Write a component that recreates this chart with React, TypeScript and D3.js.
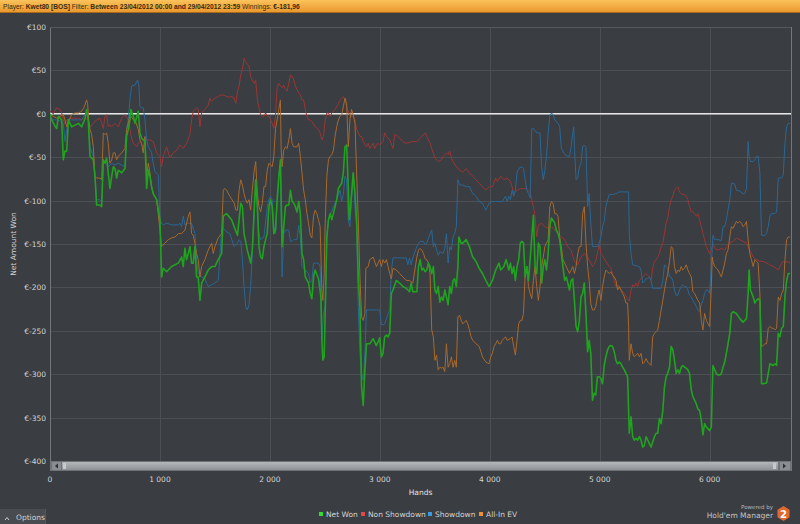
import React from 'react'
import * as d3 from 'd3'

// [hands, net amount won in €]
const netWon: [number, number][] = [
  [0,0],[15,-7],[45,-14],[61,-17],[76,-3],[106,-7],[121,-53],[136,-43],[152,-43],[167,-7],[197,-15],[227,-13],[258,-11],[288,-15],[318,-6],[333,5],[348,-7],[364,-49],[394,-53],[409,-72],[424,-105],[455,-105],[470,-107],[485,-53],[500,-57],[515,-51],[530,-68],[545,-86],[561,-72],[576,-61],[591,-63],[606,-74],[621,-65],[652,-68],[682,-63],[697,-26],[712,-18],[727,-7],[736,5],[758,-3],[773,-11],[803,3],[818,-22],[833,-28],[864,-32],[879,-86],[894,-65],[909,-72],[924,-84],[939,-92],[970,-99],[1000,-122],[1015,-188],[1030,-178],[1061,-182],[1106,-176],[1167,-172],[1197,-165],[1212,-176],[1227,-155],[1242,-168],[1258,-161],[1273,-153],[1288,-172],[1303,-172],[1318,-153],[1333,-188],[1348,-188],[1364,-215],[1379,-195],[1409,-188],[1439,-180],[1470,-176],[1500,-176],[1530,-168],[1561,-161],[1576,-118],[1606,-115],[1652,-122],
  [1675,-130],[1705,-140],[1735,-103],[1750,-107],[1765,-138],[1795,-157],[1825,-172],[1840,-157],[1856,-115],[1871,-76],[1886,-107],[1901,-153],[1916,-165],[1931,-167],[1946,-153],[1961,-145],[1976,-138],[1991,-107],[2006,-99],[2021,-107],[2036,-138],[2051,-134],[2066,-99],[2081,-74],[2096,-53],[2111,-153],[2126,-130],[2141,-107],[2157,-105],[2172,-105],[2187,-88],[2202,-101],[2217,-103],[2232,-107],[2247,-113],[2262,-101],[2277,-115],[2292,-161],[2307,-168],[2322,-188],[2352,-195],[2367,-207],[2382,-213],[2397,-188],[2412,-180],[2442,-190],[2464,-211],[2473,-261],[2482,-284],[2494,-280],[2503,-230],[2518,-142],[2533,-122],[2548,-115],[2563,-122],[2593,-107],[2608,-99],[2623,-86],[2653,-80],[2668,-68],[2683,-38],[2698,-36],[2713,-84],[2722,-122],[2734,-107],[2743,-92],[2758,-68],[2774,-92],[2789,-122],[2804,-188],[2819,-222],[2834,-315],[2849,-336],[2864,-295],[2879,-265],[2909,-265],[2939,-259],[2969,-267],[2999,-258],[3014,-280],[3029,-276],[3044,-257],[3060,-255],[3075,-257],[3090,-253],[3105,-207],[3120,-203],[3150,-192],[3180,-195],[3210,-199],[3240,-201],[3270,-205],[3285,-195],[3300,-205],
  [3337,-205],[3352,-176],[3367,-168],[3382,-180],[3397,-178],[3412,-182],[3427,-180],[3442,-172],[3457,-176],[3472,-184],[3487,-176],[3501,-203],[3516,-207],[3531,-199],[3546,-217],[3561,-211],[3576,-215],[3591,-203],[3606,-211],[3621,-220],[3636,-199],[3651,-207],[3666,-192],[3681,-190],[3696,-199],[3710,-176],[3719,-142],[3740,-149],[3755,-149],[3785,-145],[3815,-153],[3845,-165],[3875,-170],[3904,-178],[3934,-184],[3964,-192],[3994,-199],[4024,-192],[4054,-180],[4084,-172],[4099,-180],[4128,-176],[4149,-168],[4173,-180],[4188,-172],[4203,-184],[4218,-176],[4233,-192],[4248,-176],[4263,-168],[4278,-149],[4293,-147],[4307,-149],[4322,-188],[4337,-176],[4352,-192],[4367,-168],[4382,-142],[4397,-117],[4412,-176],[4427,-184],[4442,-149],[4457,-153],[4472,-195],[4487,-176],[4501,-168],[4516,-180],[4531,-161],[4546,-130],[4561,-120],[4591,-126],[4606,-134],[4621,-138],[4636,-145],[4651,-161],[4666,-176],[4681,-192],[4696,-188],[4710,-195],[4725,-203],[4740,-192],[4755,-190],[4770,-215],[4785,-245],[4800,-251],[4815,-238],[4830,-211],[4845,-207],[4860,-195],[4875,-230],[4890,-274],[4904,-261],[4919,-276],[4934,-330],[4949,-322],[4964,-324],[4979,-303],
  [4995,-303],[5011,-305],[5026,-311],[5041,-290],[5056,-280],[5072,-272],[5087,-268],[5102,-267],[5117,-268],[5132,-274],[5148,-284],[5163,-288],[5178,-286],[5193,-288],[5209,-292],[5224,-295],[5239,-299],[5254,-303],[5269,-368],[5285,-349],[5300,-372],[5315,-376],[5330,-374],[5346,-376],[5361,-372],[5376,-376],[5391,-384],[5406,-382],[5422,-372],[5437,-376],[5452,-380],[5467,-384],[5482,-378],[5498,-372],[5513,-368],[5528,-368],[5543,-351],[5559,-357],[5574,-342],[5589,-315],[5604,-303],[5619,-299],[5635,-292],[5650,-268],[5665,-272],[5680,-284],[5696,-299],[5711,-295],[5726,-299],[5741,-292],[5756,-290],[5772,-292],[5787,-293],[5802,-295],[5817,-299],[5833,-318],[5848,-326],[5863,-330],[5878,-334],[5893,-340],[5909,-342],[5924,-353],[5939,-370],[5954,-357],[5970,-361],[5985,-363],[6000,-365],[6015,-361],[6030,-290],[6046,-295],[6061,-299],[6076,-301],[6091,-301],[6107,-299],[6122,-292],[6137,-286],[6152,-276],[6167,-265],[6183,-253],[6198,-230],[6213,-228],[6243,-230],[6274,-236],[6289,-238],[6304,-240],[6320,-238],[6335,-236],[6350,-207],[6359,-180],[6371,-203],[6396,-211],[6411,-218],[6426,-215],[6441,-213],[6457,-215],[6472,-311],[6487,-311],[6518,-310],[6533,-299],[6548,-288],[6578,-290],[6594,-288],[6609,-290],[6624,-253],[6639,-257],[6655,-247],[6670,-245],[6685,-211],[6700,-192],[6715,-184],[6731,-184],
]

const nonShowdown: [number, number][] = [
  [0,3],[30,0],[61,7],[91,5],[106,1],[121,-7],[136,-12],[152,-7],[197,-5],[258,-5],[288,-7],[318,-5],[348,-7],[364,-15],[394,-11],[424,-7],[455,-5],[470,-11],[485,-17],[500,-3],[515,-1],[530,-15],[545,-13],[561,-15],[591,-11],[621,-15],[652,-5],[682,-1],[712,-7],[742,-28],[758,-34],[788,-38],[803,-34],[818,-32],[848,-38],[879,-30],[909,-30],[939,-32],[970,-45],[1000,-49],[1015,-61],[1030,-49],[1061,-38],[1091,-51],[1121,-45],[1151,-42],[1182,-36],[1212,-40],[1242,-34],[1273,-24],[1288,-7],[1303,3],[1333,7],[1348,5],[1364,-15],[1379,1],[1409,5],[1439,10],[1454,18],[1470,14],[1500,18],[1530,20],[1561,22],[1591,21],[1621,19],[1652,20],
  [1675,18],[1690,12],[1705,26],[1720,32],[1735,45],[1750,51],[1765,64],[1780,60],[1795,57],[1810,55],[1825,43],[1840,39],[1856,35],[1871,39],[1886,16],[1901,7],[1916,-1],[1931,-3],[1946,-3],[1961,1],[1976,-3],[1991,-3],[2006,-7],[2021,-11],[2036,-17],[2051,-3],[2066,30],[2081,35],[2096,32],[2111,30],[2126,33],[2141,28],[2157,26],[2172,35],[2187,45],[2202,43],[2217,39],[2232,32],[2247,28],[2262,24],[2277,22],[2292,16],[2307,16],[2322,5],[2337,-3],[2352,-7],[2367,-7],[2382,-9],[2412,-15],[2442,-18],[2457,-22],[2473,-30],[2488,-26],[2503,-7],[2518,1],[2533,1],[2548,-3],[2563,1],[2578,3],[2593,5],[2608,8],[2623,12],[2638,16],[2653,18],[2668,20],[2683,16],[2698,8],[2713,3],[2728,-3],[2758,-3],[2774,-7],[2789,-18],[2819,-26],[2834,-26],[2849,-32],[2879,-38],[2894,-34],[2909,-40],[2939,-34],[2954,-40],[2969,-36],[2984,-34],[2999,-36],[3029,-32],[3044,-22],[3060,-26],[3090,-30],[3120,-40],[3135,-24],[3150,-24],[3180,-28],[3210,-32],[3240,-34],[3270,-33],[3300,-32],
  [3337,-32],[3367,-28],[3382,-26],[3412,-22],[3427,-26],[3442,-30],[3457,-34],[3472,-40],[3501,-51],[3531,-55],[3561,-53],[3576,-49],[3591,-47],[3606,-45],[3621,-47],[3636,-43],[3651,-51],[3666,-55],[3696,-61],[3725,-65],[3755,-67],[3785,-63],[3815,-68],[3845,-72],[3875,-76],[3904,-80],[3934,-84],[3964,-88],[3994,-84],[4024,-84],[4054,-74],[4069,-78],[4099,-72],[4128,-76],[4158,-74],[4188,-78],[4203,-84],[4218,-92],[4248,-88],[4278,-86],[4307,-86],[4337,-86],[4367,-90],[4382,-99],[4397,-107],[4412,-118],[4427,-142],[4442,-128],[4472,-126],[4501,-130],[4531,-132],[4561,-130],[4591,-134],[4621,-138],[4651,-142],[4681,-145],[4710,-153],[4740,-157],[4770,-170],[4800,-174],[4830,-165],[4860,-161],[4890,-165],[4919,-172],[4934,-176],[4964,-170],
  [4995,-151],[5011,-161],[5026,-163],[5041,-167],[5056,-170],[5087,-176],[5102,-178],[5117,-184],[5132,-192],[5148,-199],[5163,-197],[5178,-199],[5193,-203],[5224,-207],[5254,-213],[5269,-216],[5285,-203],[5300,-197],[5315,-199],[5330,-195],[5346,-199],[5361,-192],[5391,-188],[5422,-184],[5452,-188],[5467,-192],[5482,-178],[5498,-170],[5513,-168],[5528,-165],[5543,-161],[5559,-153],[5574,-149],[5589,-138],[5604,-126],[5619,-120],[5635,-107],[5650,-99],[5665,-95],[5680,-88],[5696,-86],[5711,-84],[5726,-90],[5741,-92],[5756,-93],[5772,-93],[5787,-95],[5802,-99],[5817,-107],[5833,-113],[5848,-113],[5863,-115],[5878,-118],[5893,-115],[5909,-122],[5924,-130],[5939,-138],[5954,-145],[5970,-153],[5985,-157],[6000,-161],[6015,-157],[6030,-149],[6046,-155],[6076,-157],[6107,-155],[6137,-157],[6152,-153],[6183,-149],[6213,-147],[6243,-143],[6274,-145],[6304,-147],[6335,-149],[6365,-157],[6396,-165],[6426,-168],[6457,-170],[6487,-170],[6518,-172],[6548,-174],[6578,-176],[6609,-178],[6624,-180],[6639,-176],[6655,-172],[6670,-170],[6685,-172],[6700,-170],[6731,-172],
]

const showdown: [number, number][] = [
  [0,-3],[30,-7],[61,-7],[106,-9],[121,-11],[136,-32],[167,-7],[197,-7],[227,-7],[258,-7],[288,-7],[318,-1],[333,1],[348,-7],[364,-38],[394,-49],[409,-72],[424,-99],[455,-99],[470,-101],[485,-53],[500,-57],[515,-53],[530,-61],[561,-57],[591,-59],[621,-57],[652,-59],[682,-61],[697,-18],[712,-7],[727,16],[742,32],[773,33],[797,39],[809,32],[818,8],[833,7],[848,7],[864,-7],[879,-30],[894,-38],[924,-45],[939,-57],[955,-67],[985,-70],[1000,-122],[1015,-126],[1030,-128],[1061,-126],[1106,-128],[1167,-128],[1182,-126],[1197,-130],[1212,-118],[1227,-128],[1258,-126],[1288,-126],[1318,-138],[1333,-168],[1348,-184],[1379,-188],[1409,-190],[1424,-195],[1439,-199],[1470,-197],[1500,-195],[1530,-192],[1561,-134],[1576,-132],[1606,-136],[1636,-138],
  [1675,-153],[1705,-149],[1720,-145],[1735,-147],[1750,-168],[1765,-199],[1780,-222],[1795,-226],[1810,-220],[1825,-199],[1840,-161],[1856,-115],[1871,-84],[1886,-107],[1901,-138],[1916,-145],[1946,-142],[1976,-107],[1991,-99],[2006,-95],[2021,-99],[2036,-130],[2051,-138],[2066,-103],[2081,-72],[2096,-57],[2111,-188],[2126,-138],[2141,-134],[2172,-134],[2187,-147],[2202,-147],[2217,-145],[2247,-145],[2262,-128],[2277,-142],[2292,-176],[2307,-178],[2322,-180],[2352,-184],[2367,-195],[2382,-192],[2397,-172],[2427,-172],[2442,-172],[2457,-176],[2464,-211],[2473,-261],[2488,-230],[2503,-222],[2518,-140],[2533,-122],[2548,-117],[2578,-107],[2608,-99],[2623,-93],[2638,-88],[2653,-101],[2668,-93],[2683,-72],[2698,-76],[2713,-122],[2728,-130],[2743,-99],[2758,-68],[2774,-107],[2789,-130],[2804,-222],[2819,-276],[2834,-299],[2849,-307],[2864,-276],[2879,-226],[2909,-226],[2939,-226],[2969,-226],[2999,-226],[3014,-243],[3029,-243],[3044,-242],[3060,-236],[3075,-230],[3090,-226],[3105,-180],[3120,-166],[3150,-166],[3180,-166],[3210,-166],[3240,-166],[3255,-174],[3270,-166],[3285,-174],[3300,-166],
  [3337,-153],[3352,-149],[3367,-147],[3397,-147],[3412,-151],[3427,-149],[3457,-138],[3472,-134],[3487,-153],[3501,-149],[3516,-157],[3531,-163],[3546,-159],[3576,-161],[3591,-155],[3606,-138],[3621,-172],[3636,-153],[3651,-157],[3666,-142],[3681,-138],[3696,-130],[3710,-76],[3725,-82],[3755,-82],[3785,-84],[3815,-84],[3845,-92],[3860,-93],[3875,-95],[3904,-101],[3934,-103],[3949,-107],[3964,-111],[3994,-103],[4024,-101],[4054,-101],[4084,-101],[4113,-101],[4143,-95],[4158,-101],[4173,-95],[4188,-99],[4203,-88],[4218,-95],[4233,-88],[4248,-68],[4263,-63],[4293,-61],[4307,-63],[4322,-76],[4337,-88],[4352,-92],[4367,-97],[4382,-17],[4397,-17],[4427,-22],[4442,-22],[4457,-22],[4472,-61],[4487,-76],[4501,-65],[4516,-49],[4531,-22],[4546,-3],[4561,1],[4576,-1],[4591,-7],[4621,-11],[4636,-15],[4651,-40],[4666,-43],[4681,-47],[4710,-49],[4725,-49],[4740,-38],[4755,-22],[4764,-15],[4770,-38],[4785,-76],[4800,-74],[4815,-61],[4830,-57],[4845,-38],[4860,-36],[4875,-38],[4890,-107],[4904,-92],[4919,-126],[4934,-153],[4949,-153],[4979,-153],
  [4995,-149],[5011,-142],[5026,-130],[5041,-124],[5056,-107],[5072,-99],[5087,-93],[5117,-93],[5148,-92],[5178,-90],[5263,-90],[5269,-138],[5285,-161],[5300,-174],[5330,-175],[5361,-176],[5376,-180],[5391,-195],[5406,-193],[5422,-190],[5437,-190],[5452,-188],[5467,-192],[5482,-201],[5513,-201],[5559,-201],[5574,-192],[5589,-174],[5604,-176],[5619,-178],[5635,-188],[5650,-188],[5665,-192],[5680,-203],[5696,-209],[5711,-209],[5726,-203],[5741,-199],[5756,-197],[5772,-199],[5787,-199],[5802,-203],[5817,-209],[5833,-211],[5848,-215],[5863,-218],[5878,-222],[5893,-226],[5909,-228],[5924,-220],[5939,-215],[5954,-207],[5970,-203],[5985,-203],[6000,-207],[6015,-176],[6030,-140],[6046,-145],[6076,-145],[6107,-146],[6122,-130],[6137,-130],[6152,-122],[6167,-111],[6183,-99],[6198,-80],[6213,-80],[6228,-81],[6243,-88],[6274,-89],[6304,-92],[6320,-92],[6335,-86],[6350,-32],[6359,-49],[6371,-55],[6396,-55],[6411,-53],[6426,-49],[6441,-49],[6457,-68],[6472,-140],[6503,-140],[6518,-138],[6533,-130],[6548,-118],[6563,-115],[6594,-115],[6609,-113],[6624,-74],[6655,-74],[6670,-70],[6685,-34],[6700,-15],[6715,-11],[6731,-11],
]

const allInEV: [number, number][] = [
  [0,-1],[30,-3],[61,-5],[91,-3],[121,-1],[136,-7],[152,-15],[167,-9],[197,-1],[227,1],[258,1],[288,3],[312,8],[333,16],[342,12],[352,-7],[364,-18],[379,-24],[394,-38],[409,-72],[424,-74],[455,-74],[470,-76],[485,-22],[500,-24],[515,-22],[530,-34],[545,-57],[561,-53],[576,-45],[591,-45],[606,-53],[621,-49],[652,-45],[682,-40],[697,-18],[712,-11],[727,-1],[758,-7],[773,-7],[803,-18],[818,-30],[833,-34],[848,-45],[864,-26],[879,-72],[894,-57],[909,-68],[924,-84],[939,-92],[970,-99],[1000,-134],[1015,-153],[1045,-149],[1076,-145],[1106,-143],[1136,-142],[1167,-138],[1197,-138],[1227,-134],[1258,-118],[1273,-113],[1288,-138],[1303,-140],[1318,-149],[1333,-161],[1348,-168],[1364,-188],[1379,-176],[1409,-168],[1439,-157],[1470,-149],[1485,-161],[1500,-153],[1530,-143],[1561,-138],[1576,-88],[1591,-86],[1606,-88],[1636,-95],
  [1675,-103],[1690,-111],[1705,-111],[1720,-88],[1735,-76],[1750,-82],[1765,-92],[1780,-99],[1795,-103],[1810,-99],[1825,-111],[1840,-88],[1856,-67],[1871,-55],[1886,-92],[1901,-107],[1916,-113],[1931,-103],[1946,-84],[1961,-84],[1976,-65],[1991,-57],[2006,-59],[2021,-61],[2036,-49],[2051,-17],[2066,-7],[2081,5],[2096,16],[2102,-38],[2111,-61],[2126,-42],[2141,-38],[2157,-40],[2172,-30],[2187,-17],[2202,-34],[2217,-38],[2247,-38],[2262,-34],[2277,-49],[2292,-68],[2307,-88],[2322,-99],[2337,-115],[2352,-126],[2367,-140],[2382,-143],[2397,-118],[2412,-111],[2427,-115],[2442,-122],[2457,-130],[2473,-203],[2482,-215],[2494,-184],[2503,-126],[2518,-72],[2533,-53],[2548,-49],[2563,-47],[2578,-42],[2593,-26],[2608,-15],[2623,-7],[2638,-3],[2653,-1],[2668,8],[2683,18],[2698,12],[2713,-38],[2728,-7],[2743,5],[2758,-1],[2774,-11],[2789,-68],[2804,-122],[2819,-188],[2834,-234],[2849,-238],[2864,-230],[2873,-178],[2894,-176],[2909,-168],[2939,-165],[2969,-176],[2999,-168],[3014,-176],[3029,-168],[3044,-172],[3060,-168],[3075,-176],[3090,-184],[3105,-190],[3120,-178],[3150,-180],[3180,-184],[3210,-188],[3240,-192],[3270,-192],[3300,-195],
  [3337,-165],[3352,-157],[3367,-155],[3382,-157],[3397,-161],[3412,-167],[3427,-168],[3442,-172],[3457,-184],[3472,-249],[3487,-257],[3501,-284],[3516,-278],[3531,-295],[3546,-292],[3561,-293],[3576,-292],[3591,-297],[3606,-265],[3621,-292],[3636,-288],[3651,-280],[3666,-292],[3681,-284],[3696,-292],[3710,-234],[3725,-232],[3740,-238],[3755,-242],[3770,-240],[3785,-238],[3800,-242],[3815,-249],[3830,-257],[3845,-261],[3875,-265],[3904,-268],[3934,-280],[3964,-286],[3994,-288],[4009,-280],[4024,-276],[4039,-268],[4054,-265],[4069,-261],[4084,-265],[4099,-265],[4113,-261],[4143,-257],[4158,-261],[4188,-259],[4203,-257],[4218,-268],[4233,-278],[4248,-261],[4263,-242],[4278,-238],[4293,-238],[4307,-230],[4322,-184],[4337,-176],[4352,-199],[4367,-207],[4382,-213],[4397,-192],[4412,-176],[4427,-199],[4442,-215],[4457,-199],[4472,-176],[4487,-165],[4501,-153],[4516,-149],[4531,-145],[4546,-107],[4561,-101],[4576,-103],[4591,-115],[4606,-115],[4621,-118],[4636,-142],[4651,-153],[4666,-168],[4681,-172],[4710,-180],[4725,-184],[4740,-180],[4755,-176],[4770,-184],[4785,-176],[4800,-161],[4815,-153],[4830,-153],[4845,-115],[4860,-107],[4875,-149],[4890,-176],[4904,-192],[4919,-219],[4934,-226],[4949,-226],[4964,-222],[4979,-211],
  [4995,-203],[5011,-215],[5026,-199],[5041,-188],[5056,-180],[5072,-182],[5087,-184],[5102,-182],[5117,-186],[5132,-188],[5148,-192],[5163,-203],[5178,-199],[5193,-203],[5209,-207],[5224,-211],[5239,-218],[5254,-218],[5263,-245],[5269,-284],[5285,-265],[5300,-276],[5315,-280],[5330,-278],[5346,-276],[5361,-280],[5376,-276],[5391,-288],[5406,-286],[5422,-282],[5437,-286],[5452,-288],[5467,-290],[5482,-257],[5498,-253],[5513,-251],[5528,-249],[5543,-238],[5559,-226],[5574,-215],[5589,-203],[5604,-192],[5619,-184],[5635,-170],[5650,-153],[5665,-155],[5680,-176],[5696,-184],[5711,-180],[5726,-182],[5741,-176],[5756,-180],[5772,-178],[5787,-174],[5802,-180],[5817,-184],[5833,-188],[5848,-205],[5863,-207],[5878,-211],[5893,-215],[5909,-218],[5924,-238],[5939,-249],[5954,-230],[5970,-238],[5985,-242],[6000,-245],[6015,-199],[6024,-165],[6030,-170],[6046,-176],[6061,-178],[6076,-180],[6091,-184],[6107,-188],[6122,-180],[6137,-172],[6152,-161],[6167,-157],[6183,-142],[6198,-130],[6213,-132],[6228,-128],[6243,-124],[6259,-126],[6274,-124],[6289,-126],[6304,-130],[6320,-128],[6335,-124],[6350,-145],[6365,-161],[6380,-168],[6396,-176],[6411,-168],[6426,-170],[6441,-172],[6457,-207],[6472,-268],[6487,-267],[6503,-265],[6518,-265],[6533,-247],[6548,-245],[6563,-247],[6578,-247],[6594,-249],[6609,-247],[6624,-211],[6639,-215],[6655,-207],[6670,-203],[6685,-168],[6700,-145],[6715,-142],[6731,-142],
]

const yTicks = [100, 50, 0, -50, -100, -150, -200, -250, -300, -350, -400]
const xTicks = [0, 1000, 2000, 3000, 4000, 5000, 6000]

// drawing order: green on top
const series = [
  { name: 'Non Showdown', data: nonShowdown, color: '#9c3534', legend: '#e04848', width: 1 },
  { name: 'Showdown', data: showdown, color: '#2a6795', legend: '#3a9ae0', width: 1 },
  { name: 'All-In EV', data: allInEV, color: '#a8692c', legend: '#f09030', width: 1 },
  { name: 'Net Won', data: netWon, color: '#20a420', legend: '#30dd30', width: 1.6 },
]
const legendOrder = ['Net Won', 'Non Showdown', 'Showdown', 'All-In EV']

const W = 800
const H = 524
const left = 50
const right = 791
const top = 27
const bottom = 461
const font = '"DejaVu Sans", Verdana, sans-serif'

const fmtHands = (d: number) => (d >= 1000 ? `${Math.floor(d / 1000)} ${String(d % 1000).padStart(3, '0')}` : `${d}`)

export default function App() {
  const x = d3.scaleLinear().domain([0, 6740]).range([left, right])
  const y = d3.scaleLinear().domain([-400, 100]).range([bottom, top])
  const line = d3.line<[number, number]>().x(d => x(d[0])).y(d => y(d[1]))

  const legendX = [319, 361, 428, 479]

  return (
    <div style={{ position: 'fixed', left: 0, top: 0, width: W, height: H, background: '#3a3d41' }}>
      <svg width={W} height={H} style={{ display: 'block' }} fontFamily={font}>
        <defs>
          <linearGradient id="hdr" x1="0" y1="0" x2="0" y2="1">
            <stop offset="0" stopColor="#fbc25c" />
            <stop offset="1" stopColor="#e9982c" />
          </linearGradient>
          <linearGradient id="thumb" x1="0" y1="0" x2="0" y2="1">
            <stop offset="0" stopColor="#b4b7ba" />
            <stop offset="1" stopColor="#8e9195" />
          </linearGradient>
          <clipPath id="plot">
            <rect x={left} y={top} width={right - left} height={bottom - top} />
          </clipPath>
        </defs>

        <rect x={0} y={0} width={W} height={H} fill="#3a3d41" />

        {/* header bar */}
        <rect x={0} y={0} width={W} height={12} fill="url(#hdr)" />
        <line x1={0} x2={W} y1={12.5} y2={12.5} stroke="#a86a1c" />
        <text x={3} y={8.8} fontSize={6.7} fill="#3a2a10" fontFamily='"Liberation Sans", Arial, sans-serif'>
          <tspan>Player: </tspan>
          <tspan fontWeight="bold">Kwet80 [BOS]</tspan>
          <tspan> Filter: </tspan>
          <tspan fontWeight="bold">Between 23/04/2012 00:00 and 29/04/2012 23:59</tspan>
          <tspan> Winnings: </tspan>
          <tspan fontWeight="bold">€-181,96</tspan>
        </text>

        {/* grid */}
        {yTicks.map(t => (
          <line key={`gy${t}`} x1={left} x2={right} y1={Math.round(y(t)) + 0.5} y2={Math.round(y(t)) + 0.5} stroke="#4c4f54" />
        ))}
        {xTicks.map(t => (
          <line key={`gx${t}`} x1={Math.round(x(t)) + 0.5} x2={Math.round(x(t)) + 0.5} y1={top} y2={bottom} stroke="#4c4f54" />
        ))}
        <line x1={left + 0.5} x2={left + 0.5} y1={top} y2={471} stroke="#74777b" />
        <line x1={left} x2={right} y1={top + 0.5} y2={top + 0.5} stroke="#55585c" />
        <line x1={right + 0.5} x2={right + 0.5} y1={top} y2={471} stroke="#74777b" />

        {/* zero line */}
        <line x1={left} x2={right} y1={y(0)} y2={y(0)} stroke="#e6e6e6" strokeWidth={1.6} />

        <g clipPath="url(#plot)">
          {series.map(s => (
            <path key={s.name} d={line(s.data) || ''} fill="none" stroke={s.color} strokeWidth={s.width} strokeLinejoin="round" />
          ))}
        </g>

        {/* y labels */}
        {yTicks.map(t => (
          <text key={`yl${t}`} x={46} y={y(t) + 3} fontSize={7.5} fill="#d4d4d4" textAnchor="end">
            {t < 0 ? `€-${-t}` : `€${t}`}
          </text>
        ))}
        <text transform={`translate(16,${(top + bottom) / 2}) rotate(-90)`} fontSize={7.5} fill="#d4d4d4" textAnchor="middle">
          Net Amount Won
        </text>

        {/* scrollbar */}
        <rect x={left + 1} y={461} width={right - left - 1} height={10} fill="#6e7175" />
        <rect x={52} y={462} width={9} height={8} fill="#8a8d91" />
        <path d="M58,463.5 L55,466 L58,468.5 Z" fill="#2c2e31" />
        <rect x={62} y={462} width={716} height={8} fill="url(#thumb)" />
        <rect x={63} y={463} width={3} height={6} fill="#c7c9cb" />
        <rect x={773} y={463} width={3} height={6} fill="#c7c9cb" />
        <rect x={780} y={462} width={10} height={8} fill="#8a8d91" />
        <path d="M783,463.5 L786,466 L783,468.5 Z" fill="#2c2e31" />

        {/* x labels */}
        {xTicks.map(t => (
          <text key={`xl${t}`} x={x(t)} y={482} fontSize={7.5} fill="#d4d4d4" textAnchor="middle">
            {fmtHands(t)}
          </text>
        ))}
        <text x={(left + right) / 2} y={495} fontSize={7.5} fill="#e4e4e4" textAnchor="middle">Hands</text>

        {/* legend */}
        {legendOrder.map((n, i) => {
          const s = series.find(d => d.name === n)!
          return (
            <g key={n}>
              <rect x={legendX[i]} y={512} width={4} height={4} fill={s.legend} />
              <text x={legendX[i] + 7} y={517} fontSize={7.5} fill="#d4d4d4">{n}</text>
            </g>
          )
        })}

        {/* options button */}
        <rect x={0} y={509} width={45} height={15} fill="#484b4f" />
        <line x1={45.5} x2={45.5} y1={509} y2={524} stroke="#55585c" />
        <path d="M5,520 L7,517.5 L9,520" fill="none" stroke="#cfcfcf" strokeWidth={1} />
        <text x={16} y={520} fontSize={7.5} fill="#d4d4d4">Options</text>

        {/* logo */}
        <text x={773} y={509} fontSize={5.5} fill="#b4b4b4" textAnchor="end">Powered by</text>
        <text x={773} y={518} fontSize={7.5} fill="#c4c4c4" textAnchor="end">Hold'em Manager</text>
        <path d={d3.range(6).map(i => {
          const a = Math.PI / 3 * i + Math.PI / 6
          return `${i ? 'L' : 'M'}${783.5 + 7 * Math.cos(a)},${513.5 + 7.5 * Math.sin(a)}`
        }).join('') + 'Z'} fill="#e0682c" />
        <text x={783.5} y={517.5} fontSize={10} fontWeight="bold" fill="#ffffff" textAnchor="middle">2</text>
      </svg>
    </div>
  )
}
